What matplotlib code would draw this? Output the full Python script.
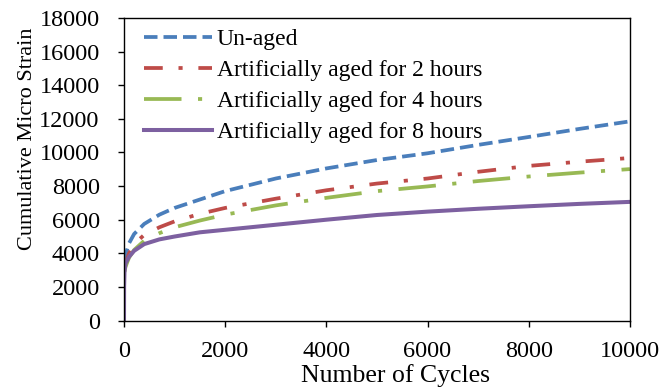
import matplotlib.pyplot as plt

# cycle counts (x) and cumulative micro strain per condition
cycles = [10, 30, 100, 200, 400, 700, 1000, 1500, 2000, 3000, 4000, 5000,
          6000, 7000, 8000, 9000, 10000]
unaged = [3500, 3900, 4600, 5150, 5750, 6300, 6700, 7200, 7700, 8450, 9050,
          9550, 9950, 10450, 10920, 11400, 11850]
aged_2h = [3100, 3400, 4000, 4550, 5100, 5550, 5900, 6350, 6700, 7250, 7750,
           8150, 8450, 8850, 9200, 9450, 9670]
aged_4h = [2900, 3200, 3750, 4200, 4750, 5200, 5550, 5950, 6300, 6850, 7300,
           7700, 7980, 8300, 8570, 8800, 9010]
cycles_8h = [0, 2, 10, 30, 100, 200, 400, 700, 1000, 1500, 2000, 3000, 4000,
             5000, 6000, 7000, 8000, 9000, 10000]
aged_8h = [0, 2000, 2900, 3400, 3800, 4150, 4550, 4830, 5000, 5250, 5400,
           5700, 6000, 6280, 6480, 6650, 6800, 6940, 7060]

labels = ["Un-aged", "Artificially aged for 2 hours",
          "Artificially aged for 4 hours", "Artificially aged for 8 hours"]

plt.rcParams["font.family"] = ["Liberation Serif", "DejaVu Serif"]

fig = plt.figure(figsize=(6.61, 3.90), dpi=100)
ax = fig.add_axes([0.1876, 0.178, 0.7654, 0.776])

ax.plot(cycles, unaged, color="#4A7EBB", lw=2.7, linestyle=(0, (3.6, 1.6)),
        label=labels[0])
ax.plot(cycles, aged_2h, color="#BE4B48", lw=2.7,
        linestyle=(0, (5, 4.2, 1.1, 4.2)), label=labels[1])
ax.plot(cycles, aged_4h, color="#98B954", lw=2.7,
        linestyle=(0, (10, 4.4, 1.1, 4.4)), label=labels[2])
ax.plot(cycles_8h, aged_8h, color="#7D60A0", lw=2.9, label=labels[3])

ax.set_xlim(0, 10000)
ax.set_ylim(0, 18000)
ax.set_xticks(range(0, 10001, 2000))
ax.set_yticks(range(0, 18001, 2000))
ax.tick_params(direction="out", length=4.5, width=1, labelsize=17.5,
               top=False, right=False)
ax.tick_params(axis="y", pad=13)
ax.tick_params(axis="x", pad=10)
for s in ax.spines.values():
    s.set_linewidth(1)

ax.set_xlabel("Number of Cycles", fontsize=18.5)
ax.xaxis.set_label_coords(0.537, -0.142)
ax.set_ylabel("Cumulative Micro Strain", fontsize=16)
ax.yaxis.set_label_coords(-0.172, 0.60)

leg = ax.legend(loc="upper left", frameon=False, fontsize=17,
                handlelength=2.9, handletextpad=0.2, labelspacing=0.4,
                borderaxespad=0.0, bbox_to_anchor=(0.02, 0.995))

fig.savefig("out.png", dpi=100)
